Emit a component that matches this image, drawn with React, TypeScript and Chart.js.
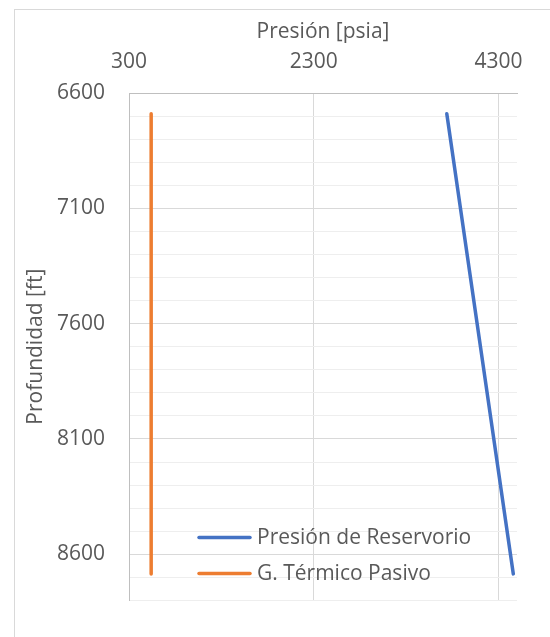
import React, { useEffect, useRef } from "react";
import { Chart, registerables } from "chart.js";

Chart.register(...registerables);

// ---- Data ----
const profundidad = [6690, 8685]; // ft
const presionReservorio = [3740, 4460]; // psia
const gTermicoPasivo = [540, 540]; // psia
const seriesLabels = ["Presión de Reservorio", "G. Térmico Pasivo"];
const seriesColors = ["#4472C4", "#ED7D31"];
const xTickValues = [300, 2300, 4300];
const xMin = 300;
const xMax = 4500;
const yMin = 6600;
const yMax = 8800;
const yMajorStep = 500;
const yMinorStep = 100;
const xTitle = "Presión [psia]";
const yTitle = "Profundidad [ft]";

const FONT = "'Open Sans', sans-serif";
const FONT_SIZE = 21;
const TEXT = "#595959";

const isMajorY = (v: number) => Math.round(v - yMin) % yMajorStep === 0;

const insideLegend = {
  id: "insideLegend",
  afterDatasetsDraw(chart: any) {
    const { ctx, chartArea } = chart;
    const x0 = chartArea.left + 70;
    const lineLen = 51;
    const y0 = chartArea.bottom - 63;
    const rowH = 36;
    ctx.save();
    ctx.font = `${FONT_SIZE}px ${FONT}`;
    ctx.textBaseline = "middle";
    ctx.textAlign = "left";
    chart.data.datasets.forEach((ds: any, i: number) => {
      const y = y0 + i * rowH;
      ctx.strokeStyle = ds.borderColor;
      ctx.lineWidth = 3.5;
      ctx.lineCap = "round";
      ctx.beginPath();
      ctx.moveTo(x0, y);
      ctx.lineTo(x0 + lineLen, y);
      ctx.stroke();
      ctx.fillStyle = TEXT;
      ctx.fillText(ds.label, x0 + lineLen + 7, y + 1);
    });
    ctx.restore();
  },
};

export default function App() {
  const canvasRef = useRef<HTMLCanvasElement | null>(null);

  useEffect(() => {
    if (!canvasRef.current) return;
    const font = { family: FONT, size: FONT_SIZE };
    const series = [presionReservorio, gTermicoPasivo];
    const chart = new Chart(canvasRef.current, {
      type: "scatter",
      data: {
        datasets: series.map((vals, i) => ({
          label: seriesLabels[i],
          data: vals.map((p, k) => ({ x: p, y: profundidad[k] })),
          showLine: true,
          borderColor: seriesColors[i],
          backgroundColor: seriesColors[i],
          borderWidth: 3.5,
          borderCapStyle: "round",
          pointRadius: 0,
          pointHoverRadius: 0,
          clip: false,
        })),
      },
      options: {
        responsive: false,
        maintainAspectRatio: false,
        animation: false,
        devicePixelRatio: 1,
        layout: { padding: { top: 0, left: 0, right: 33, bottom: 24 } },
        plugins: {
          legend: { display: false },
          tooltip: { enabled: false },
        },
        scales: {
          x: {
            type: "linear",
            position: "top",
            min: xMin,
            max: xMax,
            afterBuildTicks: (s: any) => {
              s.ticks = xTickValues.map((v) => ({ value: v }));
            },
            afterFit: (s: any) => {
              s.height = 93;
            },
            ticks: {
              padding: 18,
              color: TEXT,
              font,
              autoSkip: false,
              maxRotation: 0,
              callback: (v: any) => String(v),
            },
            grid: { color: "#d9d9d9", drawTicks: false, lineWidth: 1 },
            border: { color: "#bfbfbf", width: 1 },
            title: {
              display: true,
              text: xTitle,
              color: TEXT,
              font,
              padding: { top: 19, bottom: 0 },
            },
          },
          y: {
            type: "linear",
            position: "left",
            reverse: true,
            min: yMin,
            max: yMax,
            afterBuildTicks: (s: any) => {
              const t: any[] = [];
              for (let v = yMin; v <= yMax; v += yMinorStep) t.push({ value: v });
              s.ticks = t;
            },
            afterFit: (s: any) => {
              s.width = 129;
            },
            ticks: {
              padding: 24,
              color: TEXT,
              font,
              autoSkip: false,
              callback: (v: any) => (isMajorY(Number(v)) ? String(v) : ""),
            },
            grid: {
              drawTicks: false,
              lineWidth: 1,
              color: (c: any) =>
                c.tick && isMajorY(c.tick.value) ? "#d9d9d9" : "#eeeeee",
            },
            border: { color: "#bfbfbf", width: 1 },
            title: {
              display: true,
              text: yTitle,
              color: TEXT,
              font,
              padding: { top: 23, bottom: 0 },
            },
          },
        },
      },
      plugins: [insideLegend],
    } as any);
    return () => chart.destroy();
  }, []);

  return (
    <div
      style={{
        position: "fixed",
        left: 0,
        top: 0,
        width: 550,
        height: 637,
        background: "#ffffff",
        overflow: "hidden",
      }}
    >
      <div
        style={{
          position: "absolute",
          left: 14,
          top: 9,
          width: 700,
          height: 800,
          borderLeft: "1px solid #d9d9d9",
          borderTop: "1px solid #d9d9d9",
        }}
      />
      <canvas
        ref={canvasRef}
        width={550}
        height={637}
        style={{ position: "absolute", left: 0, top: 0, width: 550, height: 637 }}
      />
    </div>
  );
}
